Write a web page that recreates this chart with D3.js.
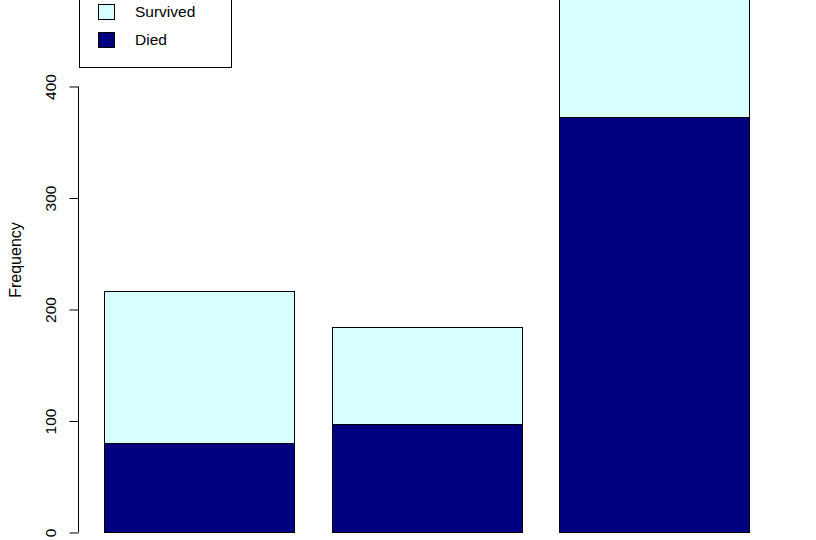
<!DOCTYPE html>
<html>
<head>
<meta charset="utf-8">
<script src="https://cdn.jsdelivr.net/npm/d3@7"></script>
<style>
  body { margin: 0; background: #fff; }
  svg { display: block; font-family: "Liberation Sans", Arial, sans-serif; }
</style>
</head>
<body>
<svg id="chart" width="816" height="540"></svg>
<script>
var classes = ["1st", "2nd", "3rd"];
var died = [80, 97, 372];
var survived = [136, 87, 119];
var seriesNames = ["Survived", "Died"];
var yTicks = [0, 100, 200, 300, 400];

var svg = d3.select("#chart");
var colors = {Died: "#000080", Survived: "#d8ffff"};

var xScale = d3.scaleBand()
  .domain(classes)
  .range([104, 749])
  .paddingInner(0.165)
  .paddingOuter(0);

var yScale = d3.scaleLinear()
  .domain([0, 400])
  .range([532, 86]);

var rows = classes.map(function(c, i){
  return {cls: c, Died: died[i], Survived: survived[i]};
});
var stacked = d3.stack().keys(["Died", "Survived"])(rows);

stacked.forEach(function(layer){
  svg.append("g").selectAll("rect")
    .data(layer)
    .enter().append("rect")
    .attr("x", function(d){ return Math.round(xScale(d.data.cls)) + 0.5; })
    .attr("y", function(d){ return Math.round(yScale(d[1])) + 0.5; })
    .attr("width", Math.round(xScale.bandwidth()))
    .attr("height", function(d){ return Math.round(yScale(d[0])) - Math.round(yScale(d[1])); })
    .attr("fill", colors[layer.key])
    .attr("stroke", "#000")
    .attr("stroke-width", 1);
});

// y axis, R style
var yAxis = d3.axisLeft(yScale).tickValues(yTicks).tickSize(9).tickPadding(0);
var ag = svg.append("g")
  .attr("transform", "translate(78.5,0.5)")
  .call(yAxis);
ag.select(".domain").attr("d", "M0," + yScale(0) + "V" + yScale(400));
ag.selectAll(".tick text")
  .attr("transform", "rotate(-90)")
  .attr("x", 0)
  .attr("y", -28)
  .attr("text-anchor", "middle")
  .attr("font-size", 15.5)
  .attr("font-family", "Liberation Sans, Arial, sans-serif")
  .attr("fill", "#000")
  .attr("dy", "0.35em")
  .attr("dx", null);

svg.append("text")
  .attr("transform", "translate(15,260) rotate(-90)")
  .attr("text-anchor", "middle")
  .attr("dy", "0.35em")
  .attr("font-size", 16)
  .text("Frequency");

// legend
var legend = svg.append("g");
legend.append("rect")
  .attr("x", 79.5).attr("y", -10.5)
  .attr("width", 152).attr("height", 78)
  .attr("fill", "#fff").attr("stroke", "#000");

seriesNames.forEach(function(name, i){
  var cy = 12 + i * 28;
  legend.append("rect")
    .attr("x", 98.5).attr("y", cy - 7.5)
    .attr("width", 16).attr("height", 15)
    .attr("fill", colors[name]).attr("stroke", "#000");
  legend.append("text")
    .attr("x", 135).attr("y", cy)
    .attr("dy", "0.35em")
    .attr("font-size", 15.5)
    .text(name);
});
</script>
</body>
</html>
